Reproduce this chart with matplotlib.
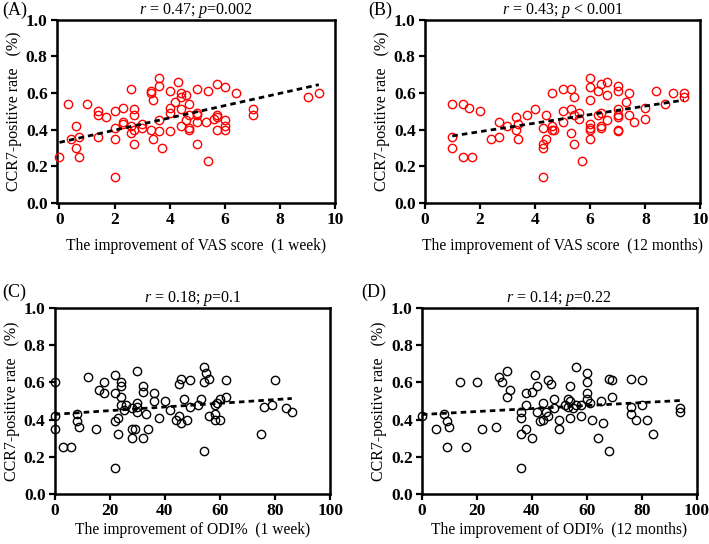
import numpy as np
import matplotlib
matplotlib.use("Agg")
import matplotlib.pyplot as plt

plt.rcParams['font.family'] = ['Liberation Serif', 'DejaVu Serif']
plt.rcParams['mathtext.fontset'] = 'custom'
plt.rcParams['mathtext.rm'] = 'Liberation Serif'
plt.rcParams['mathtext.it'] = 'Liberation Serif:italic'

# (A) VAS improvement at 1 week vs CCR7-positive rate
vas1_x = [0, 0.3, 0.4, 0.6, 0.6, 0.7, 0.7, 1.0, 1.4, 1.4, 1.4, 1.7, 2.0, 2.0, 2.0, 2.0,
          2.3, 2.3, 2.3, 2.6, 2.6, 2.6, 2.7, 2.7, 2.7, 2.7, 3.0, 3.0, 3.3, 3.3, 3.3, 3.4,
          3.4, 3.6, 3.6, 3.6, 3.6, 3.7, 4.0, 4.0, 4.0, 4.0, 4.2, 4.3, 4.4, 4.4, 4.4, 4.4,
          4.6, 4.6, 4.7, 4.7, 4.7, 4.7, 5.0, 5.0, 5.0, 5.0, 5.0, 5.3, 5.4, 5.4, 5.6, 5.7,
          5.7, 5.7, 5.7, 6.0, 6.0, 6.0, 6.0, 6.4, 7.0, 7.0, 9.0, 9.4]
vas1_y = [0.25, 0.54, 0.35, 0.42, 0.30, 0.36, 0.25, 0.54, 0.50, 0.48, 0.36, 0.47, 0.50, 0.41, 0.35, 0.14,
          0.52, 0.44, 0.43, 0.62, 0.42, 0.38, 0.51, 0.48, 0.40, 0.32, 0.43, 0.41, 0.61, 0.60, 0.40, 0.56,
          0.35, 0.68, 0.64, 0.45, 0.39, 0.30, 0.61, 0.52, 0.49, 0.39, 0.55, 0.66, 0.60, 0.58, 0.51, 0.42,
          0.59, 0.45, 0.54, 0.48, 0.41, 0.40, 0.62, 0.49, 0.48, 0.44, 0.32, 0.44, 0.61, 0.23, 0.46, 0.65,
          0.48, 0.47, 0.40, 0.63, 0.45, 0.42, 0.40, 0.60, 0.51, 0.48, 0.58, 0.60]

# (B) VAS improvement at 12 months
vas12_x = [1.0, 1.0, 1.0, 1.4, 1.4, 1.6, 1.7, 2.0, 2.4, 2.7, 2.7, 3.0, 3.3, 3.3, 3.4, 3.4,
           3.7, 4.0, 4.3, 4.3, 4.3, 4.3, 4.4, 4.4, 4.6, 4.6, 4.6, 4.7, 5.0, 5.0, 5.0, 5.3,
           5.3, 5.3, 5.4, 5.4, 5.4, 5.6, 5.6, 5.7, 6.0, 6.0, 6.0, 6.0, 6.0, 6.0, 6.0, 6.3,
           6.3, 6.4, 6.4, 6.4, 6.4, 6.6, 6.6, 6.6, 7.0, 7.0, 7.0, 7.0, 7.0, 7.0, 7.0, 7.3,
           7.4, 7.4, 7.6, 8.0, 8.0, 8.4, 8.7, 9.0, 9.4, 9.4]
vas12_y = [0.54, 0.36, 0.30, 0.54, 0.25, 0.52, 0.25, 0.50, 0.35, 0.44, 0.36, 0.42, 0.47, 0.40, 0.43, 0.35,
           0.48, 0.51, 0.32, 0.30, 0.41, 0.14, 0.48, 0.35, 0.42, 0.60, 0.40, 0.40, 0.62, 0.50, 0.44, 0.62,
           0.51, 0.38, 0.58, 0.48, 0.32, 0.49, 0.46, 0.23, 0.68, 0.63, 0.56, 0.43, 0.41, 0.40, 0.35, 0.61,
           0.48, 0.65, 0.49, 0.42, 0.41, 0.66, 0.59, 0.45, 0.64, 0.61, 0.51, 0.48, 0.47, 0.40, 0.39, 0.55,
           0.60, 0.48, 0.44, 0.52, 0.46, 0.61, 0.54, 0.60, 0.60, 0.58]

# (C) ODI% improvement at 1 week
odi1_x = [0, 0, 0, 3, 6, 8, 8, 9, 12, 15, 16, 18, 18, 22, 22, 22, 22, 23, 23, 24, 24, 24, 24,
          25, 26, 28, 28, 28, 29, 30, 30, 30, 30, 32, 32, 32, 33, 34, 36, 36, 38, 40, 42, 44,
          45, 45, 46, 46, 47, 48, 49, 49, 52, 53, 54, 54, 54, 55, 56, 56, 58, 58, 58, 59, 60,
          60, 62, 62, 75, 76, 79, 80, 84, 86]
odi1_y = [0.60, 0.42, 0.35, 0.25, 0.25, 0.43, 0.39, 0.36, 0.63, 0.35, 0.56, 0.60, 0.54, 0.64, 0.54, 0.39,
          0.14, 0.41, 0.32, 0.60, 0.58, 0.52, 0.48, 0.45, 0.48, 0.46, 0.30, 0.35, 0.35, 0.66, 0.49, 0.47,
          0.44, 0.58, 0.55, 0.30, 0.43, 0.35, 0.54, 0.50, 0.41, 0.50, 0.45, 0.40, 0.59, 0.42, 0.62, 0.38,
          0.51, 0.40, 0.61, 0.47, 0.48, 0.51, 0.68, 0.60, 0.23, 0.65, 0.62, 0.42, 0.48, 0.43, 0.40, 0.49,
          0.51, 0.40, 0.61, 0.52, 0.32, 0.47, 0.48, 0.61, 0.46, 0.44]

# (D) ODI% improvement at 12 months
odi12_x = [0, 5, 8, 9, 9, 10, 14, 16, 20, 22, 27, 28, 29, 31, 31, 32, 36, 36, 36, 36, 38, 38, 38,
           40, 40, 41, 42, 42, 43, 44, 44, 45, 46, 46, 47, 48, 48, 50, 50, 52, 53, 53, 54, 54, 54,
           55, 56, 56, 58, 58, 60, 60, 60, 60, 61, 62, 64, 65, 66, 68, 68, 69, 69, 76, 76, 76, 78,
           80, 80, 82, 84, 94, 94]
odi12_y = [0.42, 0.35, 0.43, 0.39, 0.25, 0.36, 0.60, 0.25, 0.60, 0.35, 0.36, 0.63, 0.60, 0.66, 0.52, 0.56,
           0.44, 0.41, 0.32, 0.14, 0.54, 0.48, 0.35, 0.55, 0.30, 0.64, 0.58, 0.44, 0.39, 0.49, 0.40, 0.44,
           0.61, 0.42, 0.59, 0.51, 0.46, 0.40, 0.35, 0.48, 0.51, 0.47, 0.58, 0.50, 0.41, 0.46, 0.68, 0.48,
           0.42, 0.48, 0.65, 0.60, 0.54, 0.51, 0.49, 0.40, 0.30, 0.50, 0.38, 0.62, 0.23, 0.61, 0.52, 0.62,
           0.47, 0.43, 0.40, 0.61, 0.48, 0.40, 0.32, 0.46, 0.44]

# regression lines as drawn in the figure (slope, intercept)
fit_a = [0.0335, 0.330]
fit_b = [0.0233, 0.342]
fit_c = [0.00099, 0.428]
fit_d = [0.00080, 0.427]

y_ticks = [0.0, 0.2, 0.4, 0.6, 0.8, 1.0]

panels = [
    ("(A)", vas1_x, vas1_y, fit_a, "red", "$r$ = 0.47; $p$=0.002",
     "The improvement of VAS score  (1 week)", (-0.1, 10, 2)),
    ("(B)", vas12_x, vas12_y, fit_b, "red", "$r$ = 0.43; $p$ < 0.001",
     "The improvement of VAS score  (12 months)", (0, 10, 2)),
    ("(C)", odi1_x, odi1_y, fit_c, "black", "$r$ = 0.18; $p$=0.1",
     "The improvement of ODI%  (1 week)", (0, 100, 20)),
    ("(D)", odi12_x, odi12_y, fit_d, "black", "$r$ = 0.14; $p$=0.22",
     "The improvement of ODI%  (12 months)", (0, 100, 20)),
]

positions = [
    [0.080, 0.627, 0.393, 0.337],
    [0.599, 0.627, 0.389, 0.337],
    [0.077, 0.092, 0.389, 0.342],
    [0.595, 0.092, 0.388, 0.342],
]
tag_pos = [(0.003, 0.997), (0.519, 0.997), (0.003, 0.478), (0.510, 0.478)]

fig = plt.figure(figsize=(7.09, 5.44), dpi=100)

for (tag, x, y, fit, col, title, xlab, xr), pos, tp in zip(panels, positions, tag_pos):
    ax = fig.add_axes(pos)
    x = np.array(x)
    y = np.array(y)
    ax.plot(x, y, 'o', mfc='none', mec=col, ms=6, mew=1.0, clip_on=False, zorder=3)
    xx = np.array([x.min(), x.max()])
    ax.plot(xx, fit[0] * xx + fit[1], color='black', ls=(0, (2.0, 1.5)), lw=2.0, zorder=4)

    ax.set_xlim(xr[0], xr[1])
    ax.set_ylim(0, 1.0)
    xt = np.arange(0, xr[1] + 1e-9, xr[2])
    ax.set_xticks(xt, labels=["%d" % v for v in xt], fontweight='bold', fontsize=12.5)
    ax.set_yticks(y_ticks, labels=["%.1f" % v for v in y_ticks], fontweight='bold', fontsize=12.5)
    for s in ax.spines.values():
        s.set_linewidth(1.8)
    ax.tick_params(direction='out', length=4.5, width=1.6, pad=2)

    ax.set_title(title, fontsize=11.5, pad=3)
    ax.set_ylabel("CCR7-positive rate   (%)", fontsize=11.5, labelpad=3)
    ax.set_xlabel(xlab, fontsize=11.2, labelpad=7 if tag in ("(A)", "(B)") else 2)
    fig.text(tp[0], tp[1], tag, fontsize=13, ha='left', va='top')

fig.savefig("out.png", dpi=100)
